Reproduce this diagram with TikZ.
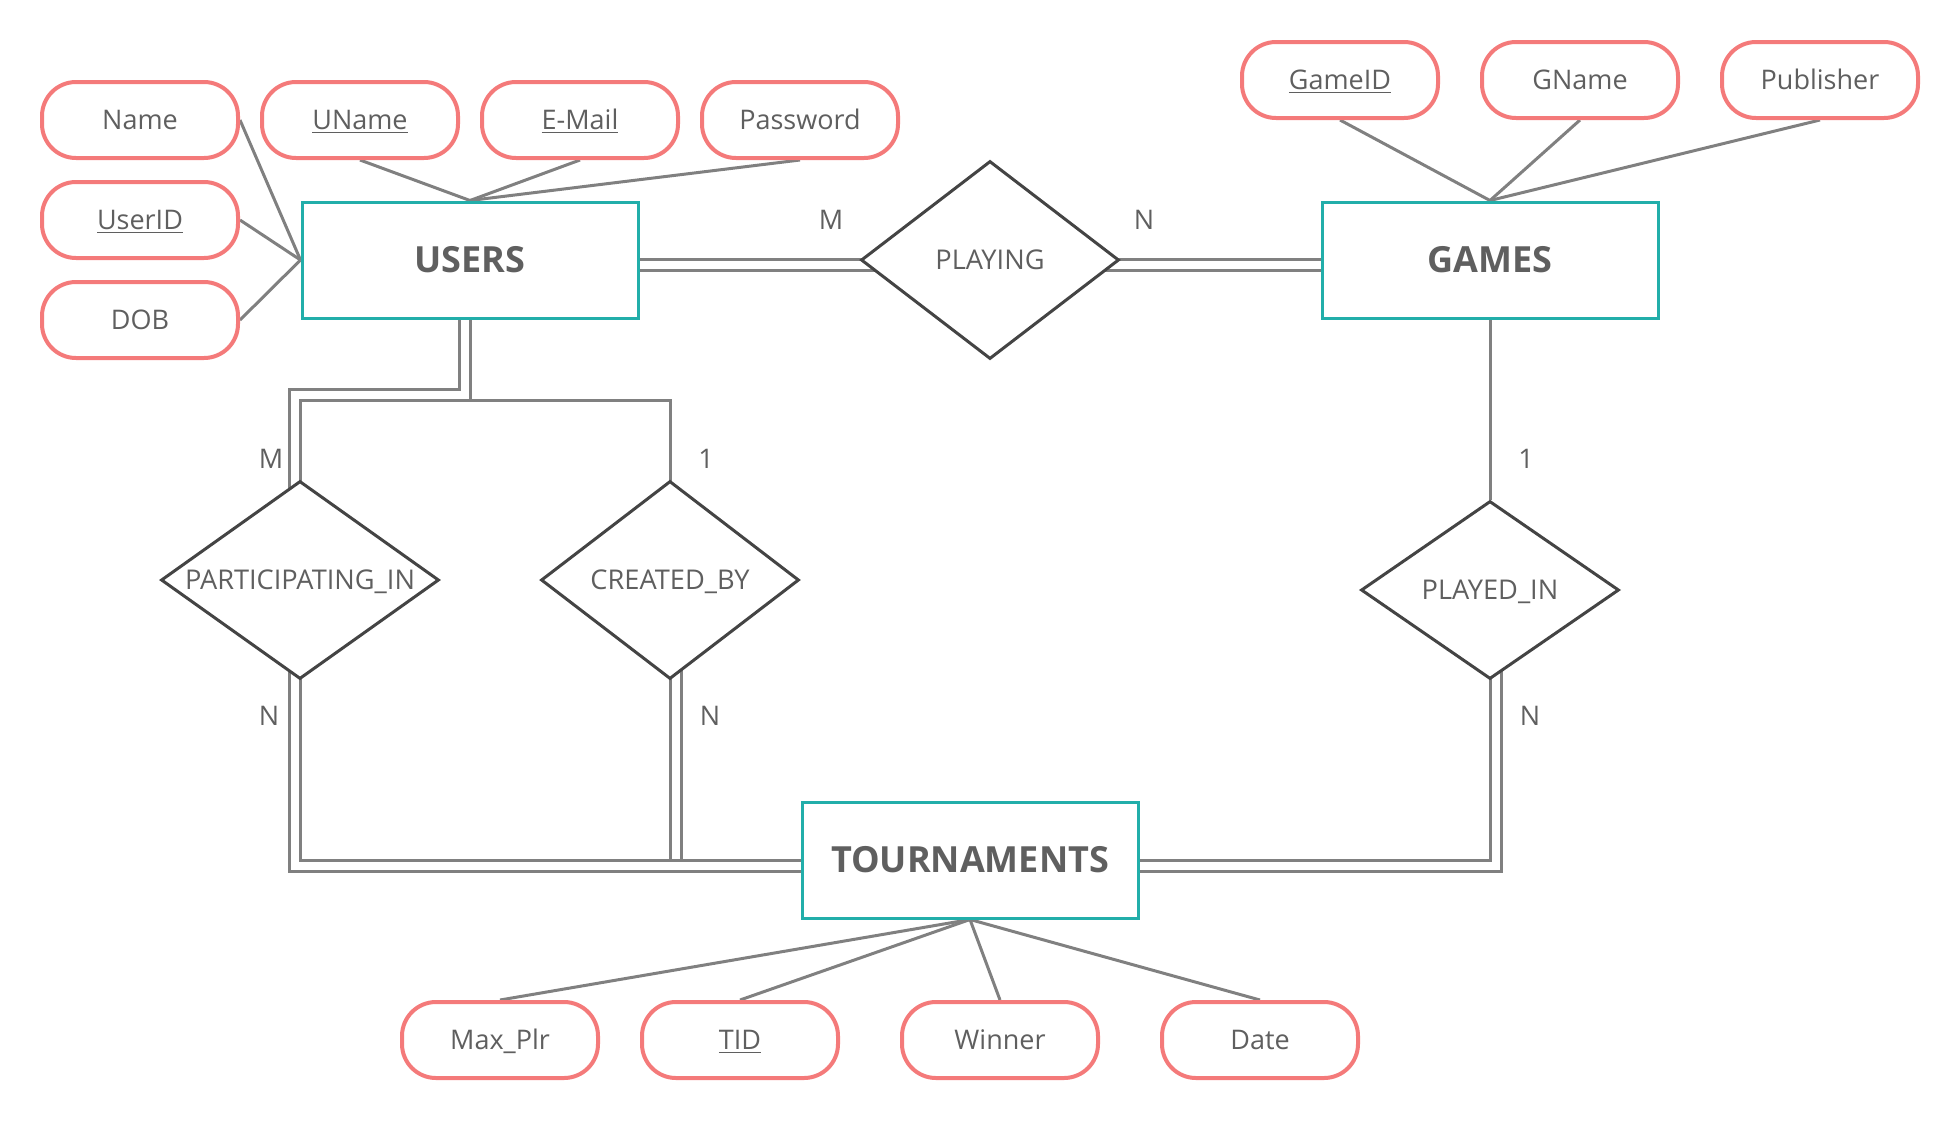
\documentclass[tikz,border=0pt]{standalone}
\usepackage{fontspec}
\setmainfont{Open Sans}
\usetikzlibrary{shapes.geometric,calc,backgrounds}

\begin{document}
\begin{tikzpicture}
    [x=0.5pt,y=-0.5pt,
    % Styles
    attribute/.style={draw=attrcolor,line width=2pt,fill=white,rounded corners=17pt,
      minimum width=98pt,minimum height=38pt,text=textcolor,text height=9.7pt,text depth=0pt,
      font=\fontsize{13.5}{16}\selectfont},
    entity/.style={draw=entitycolor,line width=1.5pt,fill=white,minimum width=168pt,
      minimum height=58pt,text=textcolor,font=\bfseries\fontsize{18}{22}\selectfont},
    relation/.style={diamond,aspect=1.4,inner sep=0pt,draw=relcolor,line width=1.5pt,
      fill=white,text=textcolor,text height=9.7pt,text depth=0pt,
      font=\fontsize{13.6}{16}\selectfont},
    link/.style={draw=linkcolor,line width=1.5pt},
    total link/.style={link,double,double distance=4pt},
    card/.style={text=textcolor,font=\fontsize{13.5}{16}\selectfont}]
    % Colors
    \definecolor{attrcolor}{RGB}{244,122,122}
    \definecolor{entitycolor}{RGB}{34,174,170}
    \definecolor{relcolor}{RGB}{68,68,68}
    \definecolor{linkcolor}{RGB}{128,128,128}
    \definecolor{textcolor}{RGB}{95,95,95}
    \useasboundingbox (0,0) rectangle (1960,1120);
    % Entities
    \node[entity] (users) at (470,260) {USERS};
    \node[entity] (games) at (1490,260) {GAMES};
    \node[entity] (tournaments) at (970,860) {TOURNAMENTS};
    % Relationships
    \node[relation,minimum width=129pt,minimum height=99pt] (playing) at (990,260) {PLAYING};
    \node[relation,minimum width=139pt,minimum height=99pt] (participating) at (300,580) {PARTICIPATING\_IN};
    \node[relation,minimum width=129pt,minimum height=99pt] (created) at (670,580) {CREATED\_BY};
    \node[relation,minimum width=129pt,minimum height=89pt] (playedin) at (1490,590) {PLAYED\_IN};
    % Attributes
    \node[attribute] (name) at (140,120) {Name};
    \node[attribute] (userid) at (140,220) {\underline{UserID}};
    \node[attribute] (dob) at (140,320) {DOB};
    \node[attribute] (uname) at (360,120) {\underline{UName}};
    \node[attribute] (email) at (580,120) {\underline{E-Mail}};
    \node[attribute] (password) at (800,120) {Password};
    \node[attribute] (gameid) at (1340,80) {\underline{GameID}};
    \node[attribute] (gname) at (1580,80) {GName};
    \node[attribute] (publisher) at (1820,80) {Publisher};
    \node[attribute] (maxplr) at (500,1040) {Max\_Plr};
    \node[attribute] (tid) at (740,1040) {\underline{TID}};
    \node[attribute] (winner) at (1000,1040) {Winner};
    \node[attribute] (date) at (1260,1040) {Date};
    % Cardinalities
    \node[card] (mplaying) at (831,220) {M};
    \node[card] (nplaying) at (1144,220) {N};
    \node[card] (mpart) at (271,459) {M};
    \node[card] (onecreated) at (706,459) {1};
    \node[card] (oneplayed) at (1526,459) {1};
    \node[card] (npart) at (269,716) {N};
    \node[card] (ncreated) at (710,716) {N};
    \node[card] (nplayed) at (1530,716) {N};
    % Connectors
    \begin{pgfonlayer}{background}
      \foreach \a in {name,userid,dob}
        \draw[link] (\a.east) -- (users.west);
      \foreach \a in {uname,email,password}
        \draw[link] (\a.south) -- (users.north);
      \foreach \a in {gameid,gname,publisher}
        \draw[link] (\a.south) -- (games.north);
      \foreach \a in {maxplr,tid,winner,date}
        \draw[link] (tournaments.south) -- (\a.north);
      \draw[total link] ($(users.center)+(0,5)$) -- ($(playing.center)+(0,5)$);
      \draw[total link] ($(playing.center)+(0,5)$) -- ($(games.center)+(0,5)$);
      \draw[link] (games) -- (playedin);
      \draw[total link] ($(playedin.center)+(6,0)$) |- ($(tournaments.center)+(0,6)$);
      \draw[total link] ($(created.center)+(5.5,0)$) coordinate (cb) -- (cb |- tournaments.center);
      \draw[total link] ($(participating.center)+(-5.5,0)$) |- ($(tournaments.center)+(0,6)$);
      \draw[total link] ($(users.center)+(-5.5,0)$) -- ++(0,134.5) -| ($(participating.center)+(-5,0)$);
      \draw[link] (users.center) -- ++(0,140) -| (created.center);
    \end{pgfonlayer}
\end{tikzpicture}
\end{document}
